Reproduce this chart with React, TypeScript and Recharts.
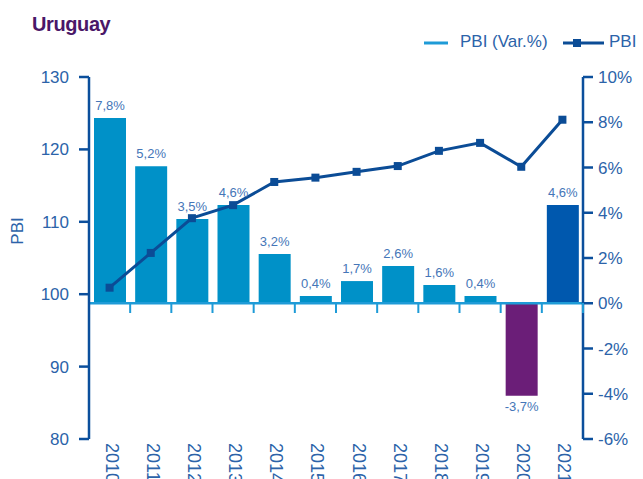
import React from 'react';
import {
  ComposedChart,
  Bar,
  Line,
  XAxis,
  YAxis,
  Cell,
  LabelList,
  ReferenceLine,
} from 'recharts';

const years = ['2010', '2011', '2012', '2013', '2014', '2015', '2016', '2017', '2018', '2019', '2020', '2021'];
// bar heights as drawn on the right (%) axis
const growthBars = [8.19, 6.06, 3.72, 4.34, 2.18, 0.32, 0.98, 1.65, 0.81, 0.32, -4.09, 4.34];
const growthLabels = ['7,8%', '5,2%', '3,5%', '4,6%', '3,2%', '0,4%', '1,7%', '2,6%', '1,6%', '0,4%', '-3,7%', '4,6%'];
const pbiIndex = [100.9, 105.7, 110.5, 112.3, 115.5, 116.1, 116.9, 117.7, 119.8, 120.9, 117.6, 124.1];
const leftTicks = [80, 90, 100, 110, 120, 130];
const rightTicks = [-6, -4, -2, 0, 2, 4, 6, 8, 10];

const data = years.map((year, i) => ({
  year,
  growth: growthBars[i],
  label: growthLabels[i],
  pbi: pbiIndex[i],
}));

const FONT = '"Liberation Sans", Arial, sans-serif';
const AXIS = '#0B4F9C';
const TEXT = '#2C63A9';
const LABEL = '#4576B8';
const LIGHT = '#0091C8';
const BASE = '#1E9BD7';
const LINE = '#0B4C96';

const barColor = (i: number) => (i === 10 ? '#6B1E78' : i === 11 ? '#0058AE' : LIGHT);

const BarLabel = (props: any) => {
  const { x, y, width, height, value } = props;
  const neg = String(value).startsWith('-');
  const top = Math.min(y, y + height);
  const bottom = Math.max(y, y + height);
  return (
    <text
      x={x + width / 2}
      y={neg ? bottom + 15 : top - 8}
      textAnchor="middle"
      fontSize={13}
      fontFamily={FONT}
      fill={LABEL}
    >
      {value}
    </text>
  );
};

const YearTick = (props: any) => {
  const { x, y, payload } = props;
  const half = 20.58;
  const tx = x - 4;
  const ty = y + 4;
  return (
    <g>
      <line x1={x + half} x2={x + half} y1={y - 136} y2={y - 126} stroke={BASE} strokeWidth={2} />
      <text
        x={tx}
        y={ty}
        transform={`rotate(90 ${tx} ${ty})`}
        textAnchor="start"
        fontSize={18}
        fontFamily={FONT}
        fill={TEXT}
      >
        {payload.value}
      </text>
    </g>
  );
};

const SquareDot = (props: any) => {
  const { cx, cy } = props;
  if (cx == null || cy == null) return null;
  return <rect x={cx - 4} y={cy - 4} width={8} height={8} fill={LINE} />;
};

const PbiAxisLabel = () => (
  <text
    x={17}
    y={231}
    transform="rotate(-90 17 231)"
    textAnchor="middle"
    dominantBaseline="central"
    fontSize={17}
    fontFamily={FONT}
    fill={TEXT}
  >
    PBI
  </text>
);

export default function App() {
  return (
    <div style={{ position: 'absolute', left: 0, top: 0, width: 643, height: 479, background: '#fff', fontFamily: FONT }}>
      <svg width={643} height={60} style={{ position: 'absolute', left: 0, top: 0 }}>
        <text x={32} y={31} fontSize={20} fontWeight="bold" letterSpacing={-0.4} fontFamily={FONT} fill="#4A1768">
          Uruguay
        </text>
        <line x1={424} x2={448} y1={43} y2={43} stroke={BASE} strokeWidth={3} />
        <text x={460} y={47} fontSize={17} fontFamily={FONT} fill={TEXT}>
          PBI (Var.%)
        </text>
        <line x1={563} x2={604} y1={43} y2={43} stroke={LINE} strokeWidth={3} />
        <rect x={573} y={39} width={8} height={8} fill={LINE} />
        <text x={609} y={47} fontSize={17} fontFamily={FONT} fill={TEXT}>
          PBI
        </text>
      </svg>
      <div style={{ position: 'absolute', left: 0, top: 0 }}>
        <ComposedChart
          width={643}
          height={479}
          data={data}
          margin={{ top: 77, right: 0, bottom: 0, left: 0 }}
          barCategoryGap={9}
        >
          <XAxis
            dataKey="year"
            height={40}
            axisLine={false}
            tickLine={false}
            tickSize={0}
            tickMargin={0}
            interval={0}
            tick={<YearTick />}
          />
          <YAxis
            yAxisId="left"
            orientation="left"
            width={89}
            domain={[80, 130]}
            ticks={leftTicks}
            interval={0}
            axisLine={{ stroke: AXIS, strokeWidth: 2.5 }}
            tickLine={{ stroke: AXIS, strokeWidth: 2.5 }}
            tickSize={10}
            tickMargin={10}
            tick={{ fill: TEXT, fontSize: 17, fontFamily: FONT }}
            label={<PbiAxisLabel />}
          />
          <YAxis
            yAxisId="right"
            orientation="right"
            width={60}
            domain={[-6, 10]}
            ticks={rightTicks}
            interval={0}
            axisLine={{ stroke: AXIS, strokeWidth: 2.5 }}
            tickLine={{ stroke: AXIS, strokeWidth: 2.5 }}
            tickSize={10}
            tickMargin={5}
            tick={{ fill: TEXT, fontSize: 17, fontFamily: FONT }}
            tickFormatter={(v: number) => `${v}%`}
          />
          <Bar yAxisId="right" dataKey="growth" barSize={32} isAnimationActive={false}>
            {data.map((_, i) => (
              <Cell key={i} fill={barColor(i)} />
            ))}
            <LabelList dataKey="label" content={BarLabel} />
          </Bar>
          <ReferenceLine yAxisId="right" y={0} stroke={BASE} strokeWidth={2.5} />
          <Line
            yAxisId="left"
            type="linear"
            dataKey="pbi"
            stroke={LINE}
            strokeWidth={3}
            dot={<SquareDot />}
            activeDot={false}
            isAnimationActive={false}
          />
        </ComposedChart>
      </div>
    </div>
  );
}
